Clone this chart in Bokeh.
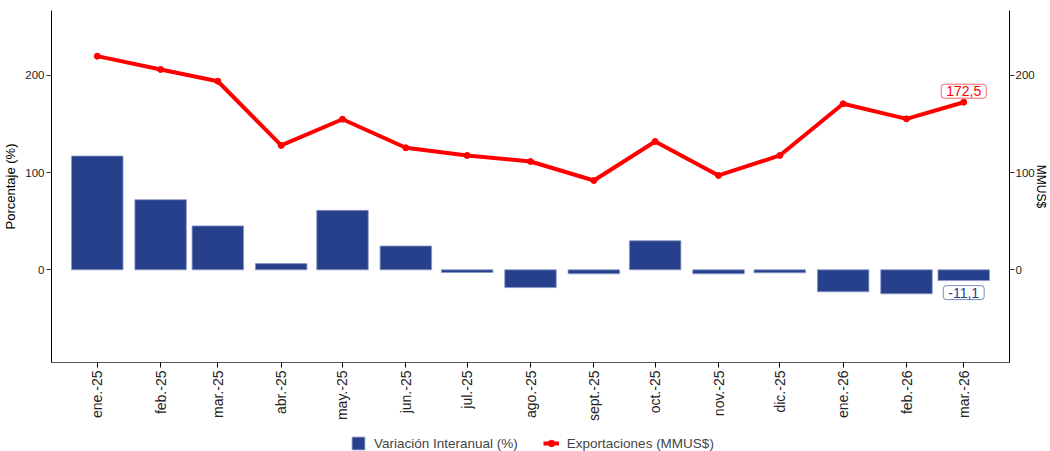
import numpy as np
import pandas as pd
from bokeh.plotting import figure
from bokeh.layouts import column
from bokeh.models import (Range1d, LinearAxis, FixedTicker, Legend, LegendItem,
                          Label, ColumnDataSource)
from bokeh.embed import file_html
from bokeh.resources import INLINE

# ---- data ----
months = ["2025-01-01", "2025-02-01", "2025-03-01", "2025-04-01", "2025-05-01",
          "2025-06-01", "2025-07-01", "2025-08-01", "2025-09-01", "2025-10-01",
          "2025-11-01", "2025-12-01", "2026-01-01", "2026-02-01", "2026-03-01"]
month_labels = ["ene.-25", "feb.-25", "mar.-25", "abr.-25", "may.-25", "jun.-25",
                "jul.-25", "ago.-25", "sept.-25", "oct.-25", "nov.-25", "dic.-25",
                "ene.-26", "feb.-26", "mar.-26"]
variacion = [117.1, 72.2, 45.2, 6.4, 61.2, 24.5, -2.8, -18.3, -4.1, 29.9,
             -4.1, -3.1, -22.6, -24.7, -11.1]
exportaciones = [219.9, 206.2, 194.1, 128.0, 155.0, 125.6, 117.7, 111.5, 91.9,
                 132.1, 97.1, 117.7, 170.9, 155.4, 172.5]
y_ticks = [0, 100, 200]

# ---- derived positions (days since first month) ----
dates = pd.to_datetime(months)
days = [int((d - dates[0]).days) for d in dates]

src = ColumnDataSource(dict(x=days, v=variacion, e=exportaciones))

FONT = "Liberation Sans"
BLUE = "#27408B"
RED = "#FF0000"
W = 1050

p = figure(width=W, height=430, output_backend="svg",
           toolbar_location=None,
           x_range=Range1d(-22.4, days[-1] + 22.4),
           y_range=Range1d(-95.4, 266.9),
           min_border_left=0, min_border_right=0, min_border_top=10,
           min_border_bottom=68)
p.xgrid.grid_line_color = None
p.ygrid.grid_line_color = None
p.outline_line_color = None
p.background_fill_color = "white"

bars = p.vbar(x="x", top="v", bottom=0, width=25.2, source=src,
              fill_color=BLUE, line_color="#8A98C6", line_width=0.8)
line = p.line(x="x", y="e", source=src, line_color=RED, line_width=4)
pts = p.scatter(x="x", y="e", source=src, size=6, fill_color=RED,
                line_color=RED)

def style_y(ax):
    ax.ticker = FixedTicker(ticks=y_ticks)
    ax.major_tick_out = 5
    ax.major_tick_in = 0
    ax.minor_tick_line_color = None
    ax.major_label_standoff = 2
    ax.major_label_text_font = FONT
    ax.major_label_text_font_size = "11.5px"
    ax.major_label_text_color = "#222222"
    ax.axis_line_color = "black"
    ax.major_tick_line_color = "#333333"
    ax.axis_label_text_font = FONT
    ax.axis_label_text_font_style = "normal"
    ax.axis_label_text_color = "black"

style_y(p.yaxis[0])
p.yaxis[0].axis_label = "Porcentaje (%)"
p.yaxis[0].axis_label_standoff = 4
p.yaxis[0].axis_label_text_font_size = "13px"

right = LinearAxis(axis_label="MMUS$")
style_y(right)
right.major_label_standoff = 1
right.axis_label_standoff = -4
right.axis_label_text_font_size = "12px"
p.add_layout(right, "right")

xa = p.xaxis[0]
xa.ticker = FixedTicker(ticks=days)
xa.major_label_overrides = {d: lab for d, lab in zip(days, month_labels)}
xa.major_label_orientation = np.pi / 2
xa.major_label_text_font = FONT
xa.major_label_text_font_size = "14px"
xa.major_label_text_color = "#222222"
xa.major_label_standoff = 3
xa.major_tick_out = 5
xa.major_tick_in = 0
xa.minor_tick_line_color = None
xa.axis_line_color = "#555555"

# data labels
p.add_layout(Label(x=days[-1], y=exportaciones[-1], y_offset=11,
                   text="172,5", text_align="center", text_baseline="middle",
                   text_font=FONT, text_font_size="14px", text_color=RED,
                   background_fill_color="white", border_line_color=RED,
                   border_line_alpha=0.6, border_line_width=1,
                   padding=(5, 2), border_radius=3))
p.add_layout(Label(x=days[-1], y=variacion[-1], y_offset=-12,
                   text="-11,1", text_align="center", text_baseline="middle",
                   text_font=FONT, text_font_size="14px", text_color=BLUE,
                   background_fill_color="white", border_line_color=BLUE,
                   border_line_alpha=0.6, border_line_width=1,
                   padding=(5, 2), border_radius=3))

# ---- legend strip: key renderers share the data but lie outside this strip's window ----
lg = figure(width=W, height=21, output_backend="svg", toolbar_location=None,
            x_range=Range1d(0, 1), y_range=Range1d(1000, 1001),
            x_axis_location=None, y_axis_location=None,
            min_border_left=0, min_border_right=0, min_border_top=0,
            min_border_bottom=0)
lg.grid.visible = False
lg.outline_line_color = None
kb = lg.vbar(x="x", top="v", width=1, source=src, fill_color=BLUE,
             line_color="#8A98C6", line_width=0.8)
kl = lg.line(x="x", y="e", source=src, line_color=RED, line_width=4)
ks = lg.scatter(x="x", y="e", source=src, size=6, fill_color=RED,
                line_color=RED)
legend = Legend(items=[LegendItem(label="Variación Interanual (%)", renderers=[kb]),
                       LegendItem(label="Exportaciones (MMUS$)", renderers=[kl, ks])],
                orientation="horizontal", location=(299, 0),
                label_text_font=FONT, label_text_font_size="13.5px",
                glyph_width=16, glyph_height=16, label_standoff=8, spacing=25,
                padding=2, margin=0, border_line_color=None,
                background_fill_alpha=0)
lg.add_layout(legend, "center")

layout = column(p, lg, spacing=0)
open("out.html", "w").write(file_html(layout, INLINE))
